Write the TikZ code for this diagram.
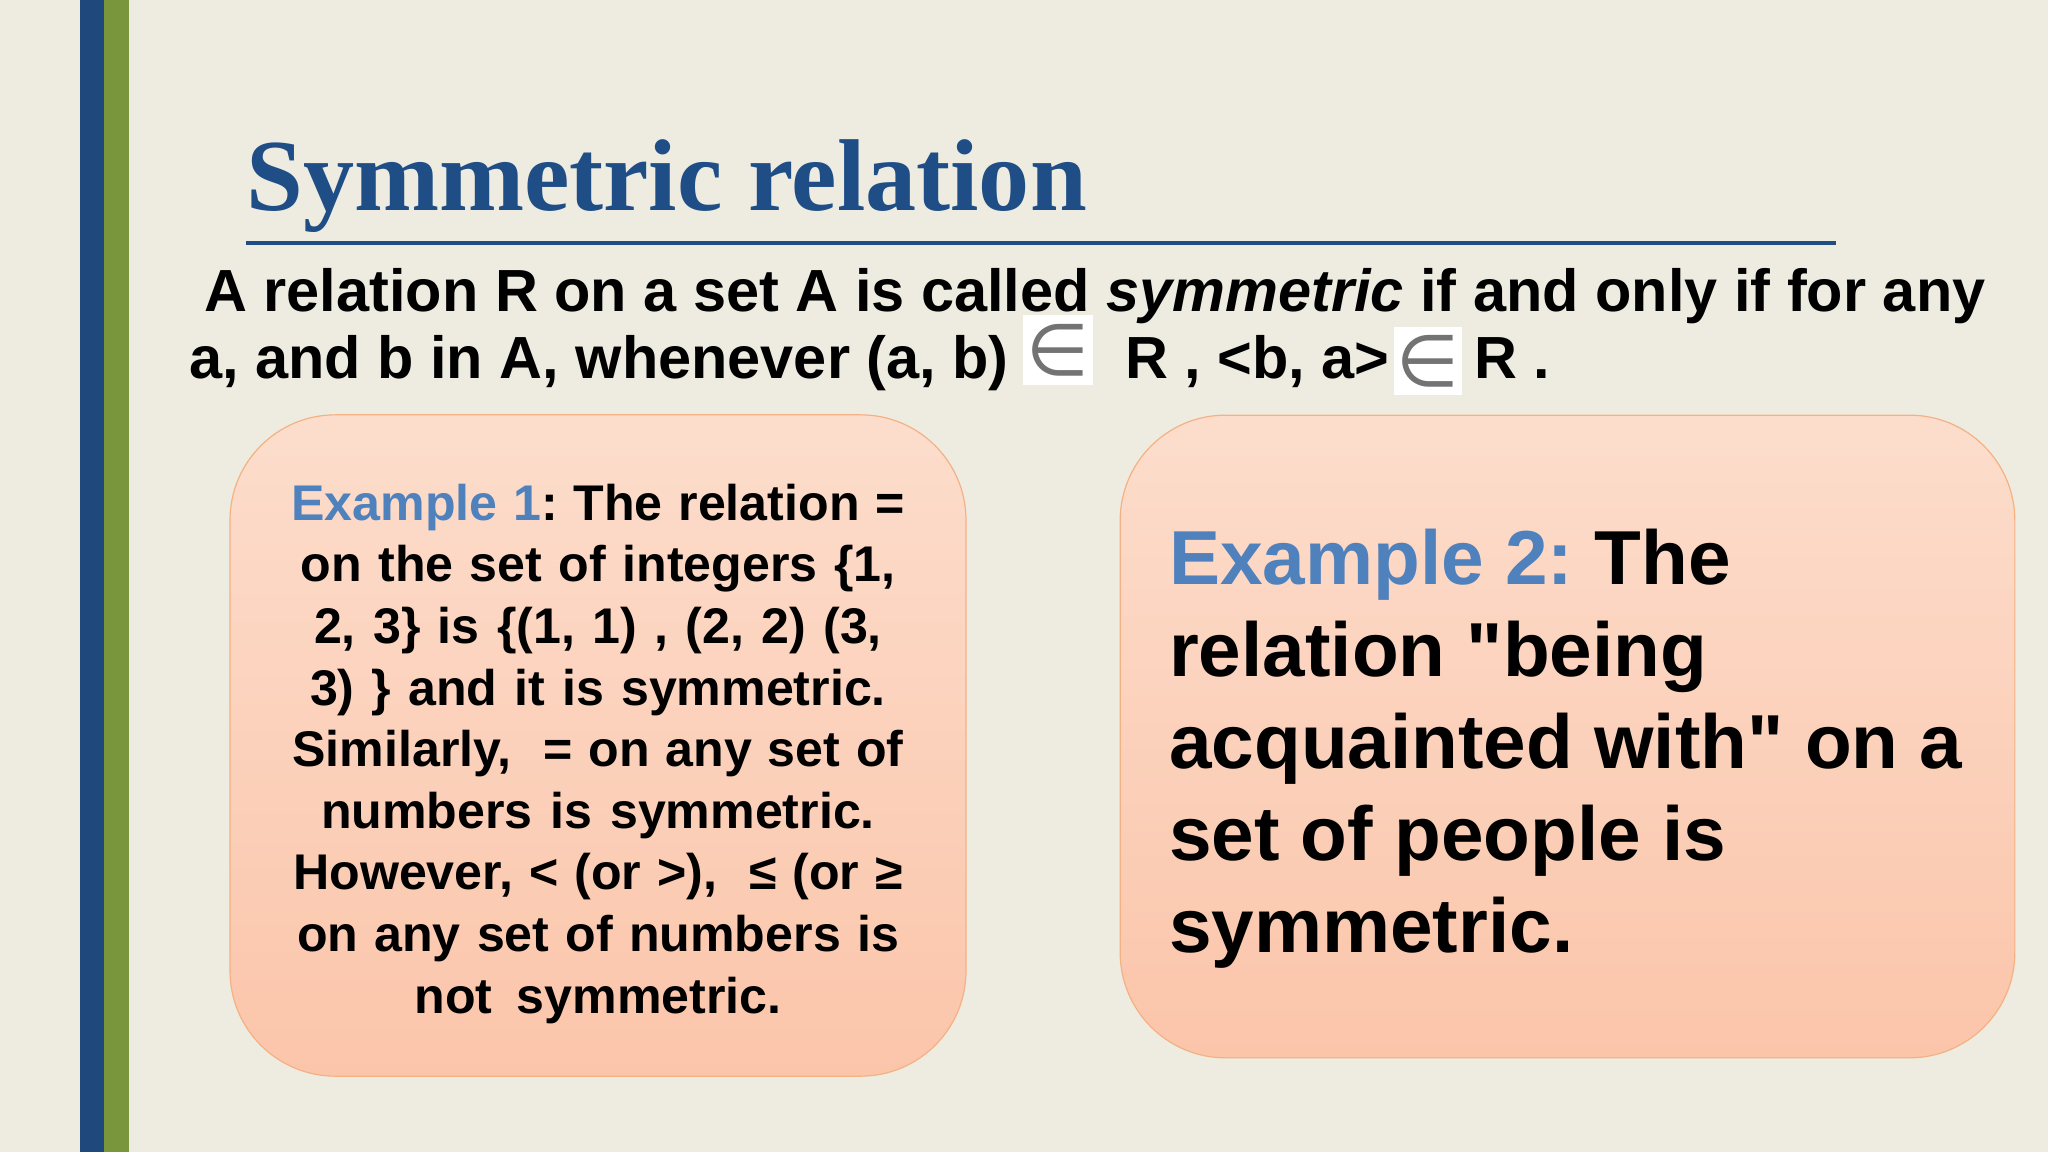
\documentclass[tikz,border=0pt]{standalone}
\usepackage{fontspec}
\setmainfont{Liberation Sans}
\newfontfamily\titlefont{Liberation Serif}
\newfontfamily\plainfont{Liberation Sans}
\newfontfamily\memberfont{DejaVu Sans}
\definecolor{slidebg}{RGB}{238,236,225}
\definecolor{barblue}{RGB}{31,73,125}
\definecolor{bargreen}{RGB}{122,150,60}
\definecolor{titleblue}{RGB}{31,78,135}
\definecolor{exblue}{RGB}{79,129,189}
\definecolor{boxline}{RGB}{244,177,131}
\definecolor{boxtop}{RGB}{252,221,204}
\definecolor{boxbot}{RGB}{251,197,170}
\tikzset{
  examplebox/.style={draw=boxline,line width=0.9pt,rounded corners=79pt,top color=boxtop,bottom color=boxbot,inner ysep=0pt},
  bodytext/.style={anchor=base west,inner sep=0pt,font=\fontsize{44.6}{52}\selectfont\bfseries},
  memberbox/.style={fill=white,inner sep=0pt,text=black!55,font=\fontsize{54}{60}\memberfont},
}

\begin{document}
\begin{tikzpicture}[x=0.75pt,y=0.75pt,yscale=-1,xscale=1]
  \useasboundingbox (0,0) rectangle (2048,1152);
  %Shape: Background
  \fill [slidebg] (0,0) rectangle (2048,1152);
  %Shape: Side bars
  \fill [barblue] (80,0) rectangle (104,1152);
  \fill [bargreen] (104,0) rectangle (129,1152);

  % Title
  \node (title) [anchor=base west,inner sep=0pt,text=titleblue,font=\fontsize{76.6}{80}\titlefont\bfseries] at (246,210) {Symmetric relation};
  %Straight Lines
  \coordinate (ruleL) at (246,243);
  \coordinate (ruleR) at (1836,243);
  \draw [titleblue,line width=3.6pt] (ruleL) -- (ruleR);

  % Text Node
  \node (lineA) [bodytext] at (204,311) {A relation R on a set A is called \textit{symmetric} if and only if for any};
  \node (lineB) [bodytext] at (189,378) {a, and b in A, whenever (a, b)};
  \node (inL) [memberbox,minimum width=52pt,minimum height=52pt] at (1058,350) {∈};
  \node (lineC) [bodytext] at (1125,378) {R , <b, a>};
  \node (inR) [memberbox,minimum width=51pt,minimum height=51pt] at (1428,361) {∈};
  \node (lineD) [bodytext] at (1474,378) {R .};

  %Shape: Rounded box
  \node (exOne) [examplebox,minimum width=552pt,minimum height=496pt,align=center,text width=500pt,font=\fontsize{37.6}{46.2}\selectfont\bfseries] at (598,745.5) {\spaceskip=0pt\xspaceskip=0pt\frenchspacing\rule{0pt}{39.5pt}%
    \textcolor{exblue}{Example 1}: The relation =\\
    on the set of integers \{1,\\
    2, 3\} is \{(1, 1) , (2, 2) (3,\\
    3) \} and it is symmetric.\\
    Similarly,\ \ = on any set of\\
    numbers is symmetric.\\
    However, < (or >),\ \ ≤ (or ≥\\
    on any set of numbers is\\
    not symmetric.};
  %Shape: Rounded box
  \node (exTwo) [examplebox,minimum width=671pt,minimum height=482pt,align=left,text width=597.5pt,inner xsep=36.75pt,font=\fontsize{57.4}{69}\selectfont\bfseries] at (1567.5,736.5) {\spaceskip=0pt\xspaceskip=0pt\frenchspacing\rule{0pt}{60pt}%
    \textcolor{exblue}{Example 2:} The\\
    relation {\plainfont"}being\\
    acquainted with{\plainfont"} on a\\
    set of people is\\
    symmetric.};
\end{tikzpicture}
\end{document}
